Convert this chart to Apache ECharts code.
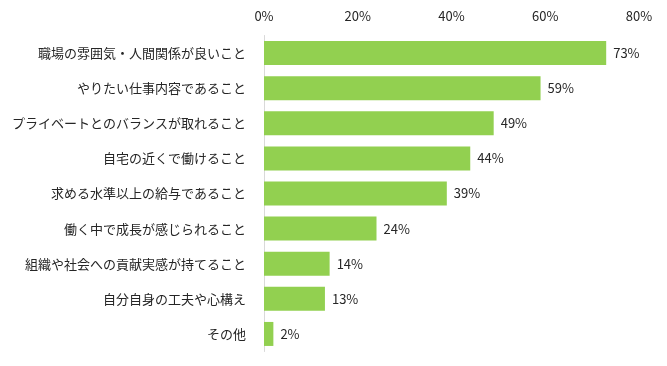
<!DOCTYPE html>
<html><head><meta charset="utf-8">
<script src="https://cdn.jsdelivr.net/npm/echarts@6/dist/echarts.min.js"></script>
<style>html,body{margin:0;padding:0;background:#fff}#c{width:667px;height:366px}</style>
</head><body><div id="c"></div>
<script>
const categories = ["職場の雰囲気・人間関係が良いこと","やりたい仕事内容であること","プライベートとのバランスが取れること","自宅の近くで働けること","求める水準以上の給与であること","働く中で成長が感じられること","組織や社会への貢献実感が持てること","自分自身の工夫や心構え","その他"];
const values = [73,59,49,44,39,24,14,13,2];
const xTicks = [0,20,40,60,80];
const font = '"Noto Sans CJK JP", sans-serif';
const txt = '#262626';
const chart = echarts.init(document.getElementById('c'));
chart.setOption({
  animation:false,
  grid:{left:264,right:28,top:35.5,bottom:14.5,containLabel:false},
  xAxis:{type:'value',position:'top',min:xTicks[0],max:xTicks[xTicks.length-1],interval:20,
    axisLine:{show:false},axisTick:{show:false},splitLine:{show:false},
    axisLabel:{formatter:'{value}%',color:txt,fontSize:13,fontFamily:font,margin:13}},
  yAxis:{type:'category',data:categories,inverse:true,
    axisLine:{show:true,lineStyle:{color:'#d9d9d9',width:1}},axisTick:{show:false},
    axisLabel:{color:txt,fontSize:13,fontFamily:font,margin:18}},
  series:[{type:'bar',data:values,barWidth:24,itemStyle:{color:'#92D050'},
    label:{show:true,position:'right',formatter:'{c}%',color:txt,fontSize:13,fontFamily:font,distance:7}}]
});
</script></body></html>
